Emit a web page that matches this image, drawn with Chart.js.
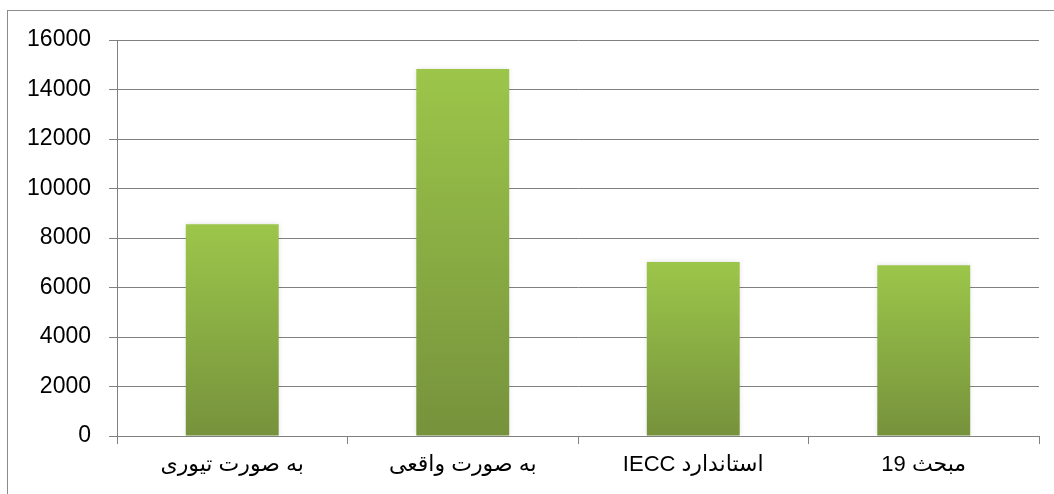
<!DOCTYPE html>
<html>
<head>
<meta charset="utf-8">
<script src="https://cdn.jsdelivr.net/npm/chart.js@4"></script>
<style>
    html, body { margin: 0; padding: 0; background: #ffffff; }
    #wrap { width: 1054px; height: 494px; }
</style>
</head>
<body>
<div id="wrap"><canvas id="myChart" width="1054" height="494"></canvas></div>
<script>
// categories (display order as in the picture)
const categories = ["به صورت تیوری", "به صورت واقعی", "IECC استاندارد", "مبحث 19"];
// bar values
const values = [8560, 14830, 7030, 6900];
// y axis ticks
const yMin = 0;
const yMax = 16000;
const yStep = 2000;

const gridColor = "#808080";

// outer frame of the chart object
const framePlugin = {
    id: "frame",
    beforeDraw(chart) {
        const c = chart.ctx;
        c.save();
        c.fillStyle = "#ffffff";
        c.fillRect(0, 0, chart.width, chart.height);
        c.strokeStyle = "#8c8c8c";
        c.lineWidth = 1;
        c.strokeRect(7.5, 10.5, 2000, 2000);
        c.restore();
    }
};

// faint shadow around the bars
const shadowPlugin = {
    id: "barShadow",
    beforeDatasetsDraw(chart) {
        const c = chart.ctx;
        c.save();
        c.shadowColor = "rgba(0,0,0,0.13)";
        c.shadowBlur = 5;
        c.shadowOffsetX = 0;
        c.shadowOffsetY = 0;
    },
    afterDatasetsDraw(chart) {
        chart.ctx.restore();
    }
};

function barGradient(context) {
    const chart = context.chart;
    const { chartArea, scales } = chart;
    if (!chartArea) return "#8aad45";
    const top = scales.y.getPixelForValue(context.raw);
    const bottom = scales.y.getPixelForValue(0);
    const g = chart.ctx.createLinearGradient(0, top, 0, bottom);
    g.addColorStop(0, "#9cc64a");
    g.addColorStop(1, "#76923c");
    return g;
}

new Chart(document.getElementById("myChart").getContext("2d"), {
    type: "bar",
    data: {
        labels: categories,
        datasets: [{
            data: values,
            backgroundColor: barGradient,
            borderWidth: 0,
            categoryPercentage: 1,
            barPercentage: 0.403
        }]
    },
    options: {
        responsive: false,
        devicePixelRatio: 1,
        animation: false,
        layout: {
            padding: { top: 40, right: 15, bottom: 0, left: 0 }
        },
        plugins: {
            legend: { display: false },
            tooltip: { enabled: false }
        },
        scales: {
            x: {
                grid: {
                    offset: true,
                    drawOnChartArea: false,
                    drawTicks: true,
                    tickLength: 8,
                    color: gridColor,
                    lineWidth: 1
                },
                border: { color: gridColor, width: 1 },
                ticks: {
                    color: "#000000",
                    padding: 8,
                    maxRotation: 0,
                    autoSkip: false,
                    font: { family: "'Liberation Sans', 'DejaVu Sans', Arial, sans-serif", size: 22 }
                },
                afterFit(scale) { scale.height = 58; }
            },
            y: {
                min: yMin,
                max: yMax,
                grid: {
                    color: gridColor,
                    lineWidth: 1,
                    drawTicks: true,
                    tickLength: 8
                },
                border: { color: gridColor, width: 1 },
                ticks: {
                    stepSize: yStep,
                    color: "#000000",
                    padding: 18,
                    font: { family: "'Liberation Sans', Arial, sans-serif", size: 23 },
                    callback: v => String(v)
                },
                afterFit(scale) { scale.width = 117; }
            }
        }
    },
    plugins: [framePlugin, shadowPlugin]
});
</script>
</body>
</html>
